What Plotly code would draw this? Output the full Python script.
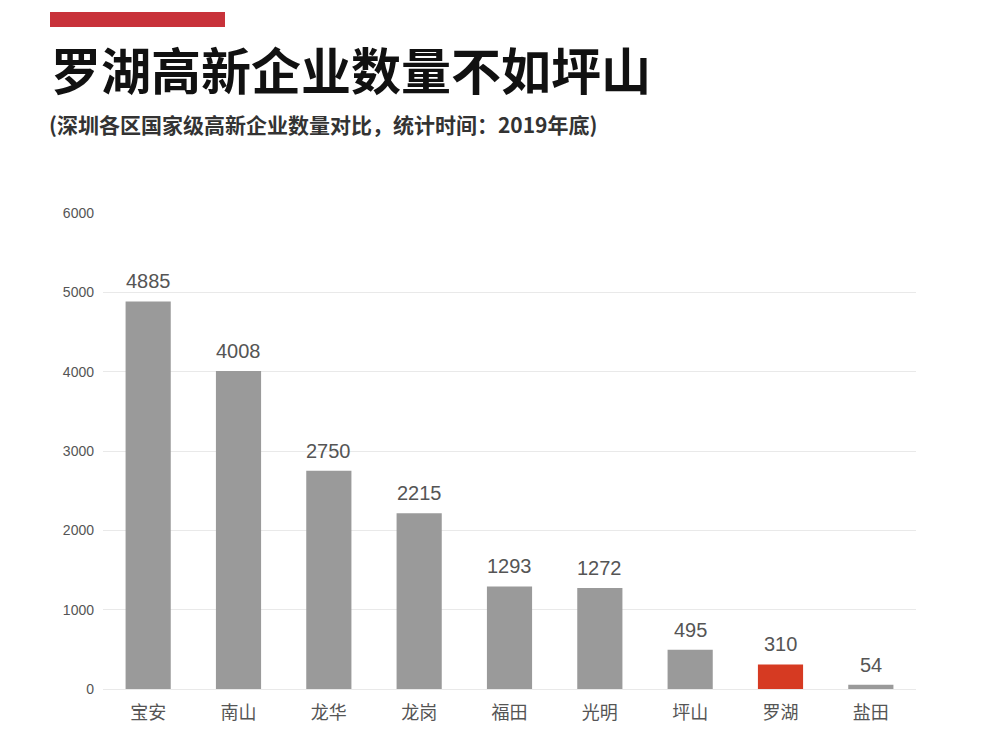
import plotly.graph_objects as go

districts = ["宝安", "南山", "龙华", "龙岗", "福田", "光明", "坪山", "罗湖", "盐田"]
counts = [4885, 4008, 2750, 2215, 1293, 1272, 495, 310, 54]
highlight = "罗湖"
y_ticks = [0, 1000, 2000, 3000, 4000, 5000, 6000]

title_text = "罗湖高新企业数量不如坪山"
subtitle_text = "(深圳各区国家级高新企业数量对比，统计时间：2019年底)"

GRAY = "#9a9a9a"
RED = "#d63a22"
colors = [RED if d == highlight else GRAY for d in districts]

# page body adds an 8px offset; work in target (screen) pixels and shift
OFF = 8
W, H = 1000 - OFF, 741 - OFF
L = 103 - OFF
T = 213 - OFF
R = W - (916 - OFF)
B = H - (689 - OFF)
pw, ph = W - L - R, H - T - B

def px_to_paper_x(px):
    return (px - OFF - L) / pw

def px_to_paper_y(py):
    return (H - B - (py - OFF)) / ph

fig = go.Figure()
fig.add_trace(go.Bar(
    x=districts, y=counts,
    marker=dict(color=colors, line=dict(width=0)),
    width=0.5,
    hoverinfo="x+y",
))

for d, v in zip(districts, counts):
    fig.add_annotation(x=d, y=v, xref="x", yref="y", text=str(v),
                       showarrow=False, yanchor="bottom", yshift=7,
                       font=dict(family="Liberation Sans, Arial, sans-serif", size=20, color="#555555"))

fig.add_shape(type="rect", xref="paper", yref="paper",
              x0=px_to_paper_x(50), x1=px_to_paper_x(225),
              y0=px_to_paper_y(27), y1=px_to_paper_y(12),
              fillcolor="#c8323a", line=dict(width=0), layer="above")

fig.add_annotation(xref="paper", yref="paper",
                   x=px_to_paper_x(49), y=px_to_paper_y(68),
                   xanchor="left", yanchor="middle", showarrow=False,
                   text="<b>" + title_text + "</b>",
                   font=dict(family="Noto Sans CJK SC", size=50, color="#111111"))
fig.add_annotation(xref="paper", yref="paper",
                   x=px_to_paper_x(47), y=px_to_paper_y(124),
                   xanchor="left", yanchor="middle", showarrow=False,
                   text=subtitle_text,
                   font=dict(family="Noto Sans CJK SC", size=21, color="#333333", weight=600))

fig.update_layout(
    width=W, height=H,
    margin=dict(l=L, r=R, t=T, b=B, pad=0),
    paper_bgcolor="white", plot_bgcolor="white",
    showlegend=False,
    xaxis=dict(
        tickfont=dict(family="Noto Sans CJK SC", size=18, color="#555555"),
        showgrid=False, showline=False, ticks="", ticklabelstandoff=11,
    ),
    yaxis=dict(
        range=[0, 6000], tickvals=y_ticks,
        tickfont=dict(family="Liberation Sans, Arial, sans-serif", size=14, color="#555555"),
        showgrid=True, gridcolor="#e9e9e9", gridwidth=1,
        zeroline=True, zerolinecolor="#e9e9e9", zerolinewidth=1,
        showline=False, ticks="", ticklabelstandoff=8,
    ),
)

fig.write_html("out.html")
